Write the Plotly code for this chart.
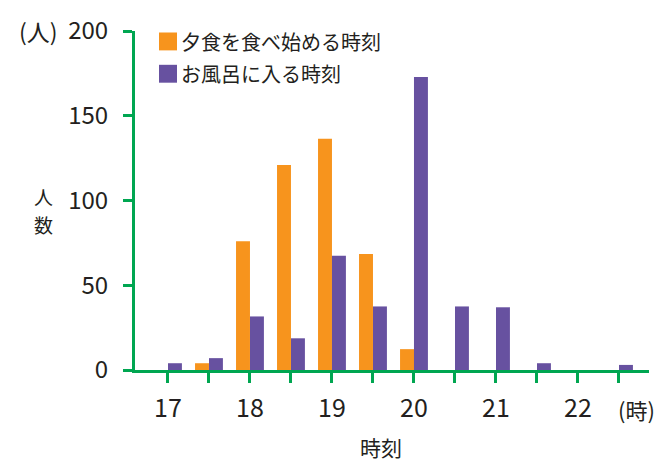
import plotly.graph_objects as go

# Data
times = [17, 17.5, 18, 18.5, 19, 19.5, 20, 20.5, 21, 21.5, 22, 22.5]
dinner = [0, 4, 76, 121, 136.5, 68.5, 12.3, 0, 0, 0, 0, 0]
bath = [4, 7, 31.6, 18.7, 67.4, 37.5, 172.8, 37.5, 37, 4, 0, 3]
tick_vals = [17, 17.5, 18, 18.5, 19, 19.5, 20, 20.5, 21, 21.5, 22, 22.5]
tick_text = ["17", "", "18", "", "19", "", "20", "", "21", "", "22", ""]
y_ticks = [0, 50, 100, 150, 200]
series_names = ["夕食を食べ始める時刻", "お風呂に入る時刻"]
colors = ["#F7941D", "#6751A0"]

GREEN = "#00A651"
FONT = "Noto Sans CJK JP"
TXT = "#231F20"

fig = go.Figure()
fig.add_trace(go.Bar(x=times, y=dinner, name=series_names[0], marker_color=colors[0],
                     marker_line_width=0, showlegend=False))
fig.add_trace(go.Bar(x=times, y=bath, name=series_names[1], marker_color=colors[1],
                     marker_line_width=0, showlegend=False))

L, R, T, B = 135, 649, 29, 370
W, H = 660, 461
pw, ph = R - L, B - T

def px(x):
    return (x - L) / pw

def py(y):
    return (B - y) / ph

fig.update_layout(
    width=W, height=H,
    margin=dict(l=L, r=W - R, t=T, b=H - B, pad=0),
    paper_bgcolor="white", plot_bgcolor="white",
    barmode="group", bargap=0.32, bargroupgap=0,
    font=dict(family=FONT, color=TXT, size=22),
    xaxis=dict(range=[16.598, 22.866], tickvals=tick_vals, ticktext=tick_text,
               showgrid=False, zeroline=False, showline=True, linecolor=GREEN, linewidth=3,
               ticks="outside", ticklen=10, tickwidth=3, tickcolor=GREEN,
               tickfont=dict(size=25, family=FONT, color=TXT), ticklabelstandoff=4),
    yaxis=dict(range=[0, 200], tickvals=y_ticks,
               showgrid=False, zeroline=False, showline=True, linecolor=GREEN, linewidth=3,
               ticks="outside", ticklen=9, tickwidth=3, tickcolor=GREEN,
               tickfont=dict(size=24, family=FONT, color=TXT), ticklabelstandoff=10),
)

annos = [
    dict(text="(人)", x=px(38), y=py(29), size=23),
    dict(text="人", x=px(43), y=py(195), size=19),
    dict(text="数", x=px(43), y=py(224), size=19),
    dict(text="時刻", x=px(381), y=py(447), size=21),
    dict(text="(時)", x=px(636), y=py(409), size=22),
]
for a in annos:
    fig.add_annotation(text=a["text"], x=a["x"], y=a["y"], xref="paper", yref="paper",
                       xanchor="center", yanchor="middle", showarrow=False,
                       font=dict(size=a["size"], family=FONT, color=TXT))

# custom legend
leg_y = [39.5, 72]
for name, col, yc in zip(series_names, colors, leg_y):
    fig.add_shape(type="rect", xref="paper", yref="paper",
                  x0=px(159), x1=px(177), y0=py(yc + 9), y1=py(yc - 9),
                  fillcolor=col, line_width=0)
    fig.add_annotation(text=name, x=px(179), y=py(yc), xref="paper", yref="paper",
                       xanchor="left", yanchor="middle", showarrow=False,
                       font=dict(size=20, family=FONT, color=TXT))

fig.write_html("out.html")
